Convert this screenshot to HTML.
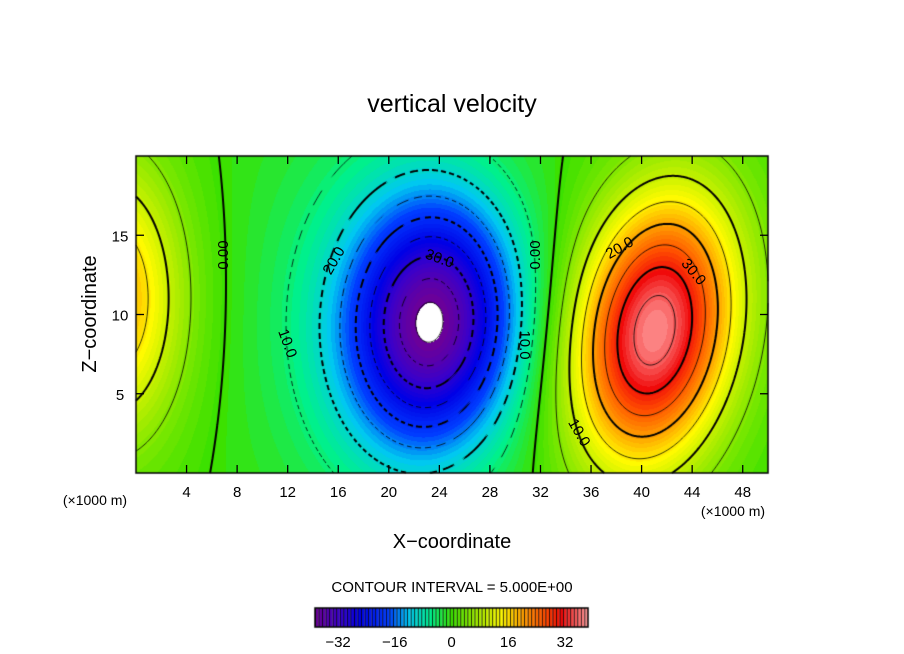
<!DOCTYPE html>
<html><head><meta charset="utf-8"><style>
body{margin:0;background:#fff;width:904px;height:654px;overflow:hidden;position:relative;font-family:"Liberation Sans",sans-serif}
canvas,svg{position:absolute;left:0;top:0}
</style></head><body>
<canvas id="c" width="904" height="654"></canvas>
<svg id="s" width="904" height="654">
<text x="452" y="112" font-size="25" text-anchor="middle">vertical velocity</text>
<text x="452" y="548" font-size="20" text-anchor="middle">X−coordinate</text>
<text transform="translate(96,314) rotate(-90)" font-size="20" text-anchor="middle">Z−coordinate</text>
<text x="95" y="505" font-size="14" text-anchor="middle">(×1000 m)</text>
<text x="733" y="516" font-size="14" text-anchor="middle">(×1000 m)</text>
<text x="452" y="592" font-size="15" text-anchor="middle">CONTOUR INTERVAL = 5.000E+00</text>
<g id="ticks"></g>
<g id="labels" font-size="15"></g>
</svg>
<script>
// field model: blobs [amplitude, centerX km, centerZ km, sigmaX, sigmaZ, tilt]
const blobAmp=[-33.5,37.5,20,-7];
const blobCx=[23.5,41,-2,19.5];
const blobCz=[9.5,9,11,10];
const blobSx=[4.5,4.4,4,7];
const blobSz=[5.3,6,6.1,9];
const blobTilt=[0.05,0.15,0,0];
const xTicks=[4,8,12,16,20,24,28,32,36,40,44,48];
const zTicks=[5,10,15];
const cbTicks=[-32,-16,0,16,32];
const levels=[-35,-30,-25,-20,-15,-10,-5,0,5,10,15,20,25,30,35];
const cMin=-38.5,cMax=38.5;

const X0=136,X1=768,Y0=156,Y1=473,XMAX=50,ZMAX=20;
const sx=x=>X0+(x/XMAX)*(X1-X0);
const sz=z=>Y1-(z/ZMAX)*(Y1-Y0);
function field(x,z){let v=0;for(let i=0;i<blobAmp.length;i++){let dz=z-blobCz[i];let dx=x-blobCx[i]-blobTilt[i]*dz;v+=blobAmp[i]*Math.exp(-(dx*dx/(2*blobSx[i]*blobSx[i])+dz*dz/(2*blobSz[i]*blobSz[i])));}return v;}
const stops=[[-38.5,[110,0,150]],[-32,[60,0,200]],[-26,[0,0,230]],[-18,[0,60,255]],[-12,[0,200,240]],[-6,[0,240,140]],[0,[60,225,0]],[7,[160,235,0]],[14,[255,250,0]],[20,[255,160,0]],[26,[255,80,0]],[31,[240,10,10]],[38.5,[255,160,160]]];
function cmap(v){v=Math.round(v);if(v<=stops[0][0])return stops[0][1];for(let i=1;i<stops.length;i++){if(v<=stops[i][0]){const a=stops[i-1],b=stops[i];const t=(v-a[0])/(b[0]-a[0]);return a[1].map((c,k)=>Math.round(c+(b[1][k]-c)*t));}}return stops[stops.length-1][1];}
const cv=document.getElementById('c'),ctx=cv.getContext('2d');
const W=X1-X0,H=Y1-Y0;
const grid=[];
for(let j=0;j<=H;j++){grid[j]=[];for(let i=0;i<=W;i++){grid[j][i]=field(i/W*XMAX,(H-j)/H*ZMAX);}}
const img=ctx.createImageData(W,H);
for(let j=0;j<H;j++)for(let i=0;i<W;i++){const v=grid[j][i];const p=(j*W+i)*4;
 if(v<cMin||v>cMax){img.data[p]=255;img.data[p+1]=255;img.data[p+2]=255;}else{const c=cmap(v);img.data[p]=c[0];img.data[p+1]=c[1];img.data[p+2]=c[2];}img.data[p+3]=255;}
ctx.putImageData(img,X0,Y0);
function contour(L,thick,dashed){ctx.strokeStyle='#000';ctx.lineWidth=thick?2:0.8;ctx.beginPath();
 for(let j=0;j<H;j++)for(let i=0;i<W;i++){
  if(dashed&&((i+j)%10)>=6)continue;
  const a=grid[j][i],b=grid[j][i+1],c=grid[j+1][i+1],d=grid[j+1][i];
  const pts=[];
  if((a<L)!=(b<L))pts.push([i+(L-a)/(b-a),j]);
  if((b<L)!=(c<L))pts.push([i+1,j+(L-b)/(c-b)]);
  if((d<L)!=(c<L))pts.push([i+(L-d)/(c-d),j+1]);
  if((a<L)!=(d<L))pts.push([i,j+(L-a)/(d-a)]);
  for(let k=0;k+1<pts.length;k+=2){ctx.moveTo(X0+pts[k][0],Y0+pts[k][1]);ctx.lineTo(X0+pts[k+1][0],Y0+pts[k+1][1]);}
 }ctx.stroke();}
levels.forEach(L=>contour(L,L%10===0,L<0));
contour(cMin,false,false);
ctx.strokeStyle='#000';ctx.lineWidth=1.5;ctx.strokeRect(X0,Y0,W,H);
const CB0=315,CB1=588,CBY=608,CBH=19;
const cbx=v=>CB0+(v-cMin)/(cMax-cMin)*(CB1-CB0);
for(let v=Math.ceil(cMin);v<=cMax;v++){const c=cmap(v);ctx.fillStyle=`rgb(${c})`;ctx.fillRect(cbx(v-0.5),CBY,cbx(v+0.5)-cbx(v-0.5),CBH);ctx.fillStyle='#000';ctx.fillRect(cbx(v-0.5),CBY,0.8,CBH);}
ctx.lineWidth=1.5;ctx.strokeRect(CB0,CBY,CB1-CB0,CBH);
const NS='http://www.w3.org/2000/svg';const tg=document.getElementById('ticks');
function line(x1,y1,x2,y2,n){const l=document.createElementNS(NS,'line');l.setAttribute('x1',x1);l.setAttribute('y1',y1);l.setAttribute('x2',x2);l.setAttribute('y2',y2);l.setAttribute('stroke','#000');l.setAttribute('stroke-width','1.3');


tg.appendChild(l);}
function txt(x,y,s,n,g,rot){const t=document.createElementNS(NS,'text');t.setAttribute('x',x);t.setAttribute('y',y);t.setAttribute('text-anchor','middle');t.setAttribute('font-size','15');if(rot!==undefined)t.setAttribute('transform',`rotate(${rot} ${x} ${y})`);t.textContent=s;


(g||tg).appendChild(t);}
xTicks.forEach(v=>{line(sx(v),Y1,sx(v),Y1-8,'x-tick');line(sx(v),Y0,sx(v),Y0+8,'x-tick-top');txt(sx(v),497,String(v),'x-tick-label');});
zTicks.forEach(v=>{line(X0,sz(v),X0+8,sz(v),'z-tick');line(X1,sz(v),X1-8,sz(v),'z-tick-right');txt(120,sz(v)+6,String(v),'z-tick-label');});
cbTicks.forEach(v=>txt(cbx(v),647,v<0?'−'+(-v):String(v),'colorbar-tick-label'));
const lg=document.getElementById('labels');
const lab=[[228,250,'0.00',-90],[338,258,'20.0',-60],[438,258,'30.0',20],[283,340,'10.0',70],[520,340,'10.0',90],[540,250,'0.00',-90],[622,247,'20.0',-30],[690,270,'30.0',50],[575,430,'10.0',60]];
lab.forEach(a=>txt(a[0],a[1]+5,a[2],'contour-label',lg,a[3]));
</script>
</body></html>
